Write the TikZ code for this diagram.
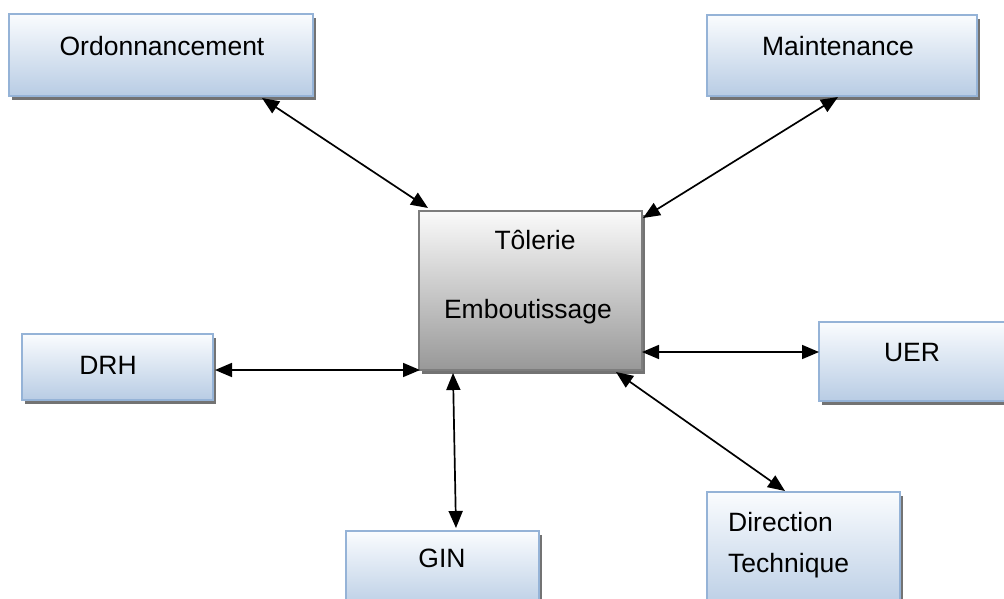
\documentclass[tikz,border=0pt]{standalone}
\usepackage{fontspec}
\setmainfont{Liberation Sans}
\usetikzlibrary{arrows.meta,shadows}

\definecolor{bluetop}{RGB}{250,252,254}
\definecolor{bluebot}{RGB}{184,204,228}
\definecolor{blueline}{RGB}{149,179,215}
\definecolor{greytop}{RGB}{250,250,250}
\definecolor{greybot}{RGB}{152,152,152}
\definecolor{greyline}{RGB}{125,125,125}
\definecolor{shade}{RGB}{115,115,115}

\tikzset{
  x=1pt, y=-1pt,
  boxshadow/.style={general shadow={fill=shade, shadow xshift=3pt, shadow yshift=-4pt}},
  bluebox/.style={draw=blueline, line width=1.6pt, top color=bluetop, bottom color=bluebot,
                  anchor=north west, inner sep=0pt, outer sep=0pt, boxshadow},
  greybox/.style={draw=greyline, line width=2.2pt, top color=greytop, bottom color=greybot,
                  anchor=north west, inner sep=0pt, outer sep=0pt, boxshadow},
  txt/.style={font=\fontsize{26.5pt}{30pt}\selectfont, inner sep=0pt, anchor=base},
  ltxt/.style={txt, anchor=base west},
  link/.style={line width=1.7pt, {Triangle[length=17pt,width=14pt]}-{Triangle[length=17pt,width=14pt]}}
}

\begin{document}
\begin{tikzpicture}
  \clip (0,0) rectangle (1004,598);
  \fill[white] (0,0) rectangle (1004,598);

  % boxes
  \node[bluebox, minimum width=304pt, minimum height=82pt] (ord) at (9,14) {};
  \node[bluebox, minimum width=270pt, minimum height=81pt] (mnt) at (707,15) {};
  \node[greybox, minimum width=223pt, minimum height=159pt] (tol) at (419,211) {};
  \node[bluebox, minimum width=191pt, minimum height=66pt] (drh) at (22,334) {};
  \node[bluebox, minimum width=191pt, minimum height=79pt] (uer) at (819,322) {};
  \node[bluebox, minimum width=193pt, minimum height=80pt] (gin) at (346,531) {};
  \node[bluebox, minimum width=193pt, minimum height=120pt] (dir) at (707,492) {};

  % labels
  \node[txt] (ordT) at (162,55) {Ordonnancement};
  \node[txt] (mntT) at (838,55) {Maintenance};
  \node[txt] (tolA) at (535,249) {Tôlerie};
  \node[txt] (tolB) at (528,318) {Emboutissage};
  \node[txt] (drhT) at (108,374) {DRH};
  \node[txt] (uerT) at (912,361) {UER};
  \node[txt] (ginT) at (442,567) {GIN};
  \node[ltxt] (dirA) at (728,531) {Direction};
  \node[ltxt] (dirB) at (728,572) {Technique};

  % two-way links to the central workshop
  \draw[link] ([shift={(253,2)}]ord.south west) -- ([shift={(9,-3)}]tol.north west);
  \draw[link] ([shift={(131,1)}]mnt.south west) -- ([shift={(1,7)}]tol.north east);
  \draw[link] ([shift={(2,3)}]drh.east) -- ([shift={(1,0)}]tol.south west);
  \draw[link] ([shift={(0,-18)}]tol.south east) -- ([shift={(0,30)}]uer.north west);
  \draw[link] ([shift={(34,3)}]tol.south west) -- ([shift={(110,-3)}]gin.north west);
  \draw[link] ([shift={(-26,2)}]tol.south east) -- ([shift={(78,-1)}]dir.north west);
\end{tikzpicture}
\end{document}
